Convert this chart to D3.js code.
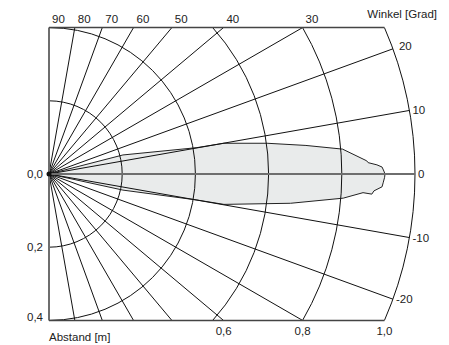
<!DOCTYPE html>
<html>
    <head>
        <script src="https://cdn.jsdelivr.net/npm/d3@7"></script>
    </head>
    <style>
        body { margin: 0; background: #fff; }
        text { font-family: "Liberation Sans", Arial, sans-serif; font-size: 11.5px; fill: #222; }
    </style>
    <body>
        <div id="canvas"></div>
        <script>
            // distance rings [m] and their labels
            var distTicks = [0.2, 0.4, 0.6, 0.8, 1.0];
            var distLabels = ['0,2', '0,4', '0,6', '0,8', '1,0'];
            // angle rays [deg]
            var angleTicks = [90, 80, 70, 60, 50, 40, 30, 20, 10, 0, -10, -20, -30, -40, -50, -60, -70, -80, -90];
            var topAngles = [90, 80, 70, 60, 50, 40, 30];
            var rightAngles = [20, 10, 0, -10, -20];
            // detection lobe: distance along axis [m], lateral offset [m]
            var lobeDist = [0, 0.202, 0.404, 0.478, 0.596, 0.702, 0.802, 0.868, 0.872, 0.896, 0.910, 0.915, 0.918,
                            0.917, 0.913, 0.910, 0.888, 0.882, 0.858, 0.804, 0.660, 0.478, 0.404, 0.202, 0];
            var lobeLat  = [0, 0.052, 0.072, 0.084, 0.084, 0.078, 0.068, 0.036, 0.031, 0.025, 0.019, 0.008, 0,
                            -0.009, -0.024, -0.035, -0.046, -0.055, -0.051, -0.066, -0.080, -0.083, -0.071, -0.044, 0];

            const w = 449;
            const h = 345;
            const ox = 49, oy = 174;

            const svg = d3.select('#canvas')
                .append('svg')
                .attr('width', w)
                .attr('height', h);

            const r = d3.scaleLinear().domain([0, 1]).range([0, 366]);
            const R = r(1.0);
            const half = r(0.4);   // frame half height
            const rad = d => d * Math.PI / 180;

            const g = svg.append('g').attr('transform', `translate(${ox},${oy})`);

            // lobe
            const lobe = d3.line().x(d => r(d[0])).y(d => -r(d[1]));
            g.append('path')
                .attr('d', lobe(d3.zip(lobeDist, lobeLat)) + 'Z')
                .attr('fill', '#e9ebeb')
                .attr('stroke', '#222')
                .attr('stroke-width', 1);

            // arcs
            distTicks.forEach(d => {
                const rr = r(d);
                const tmax = rr <= half + 0.01 ? Math.PI / 2 : Math.asin(half / rr);
                const p = d3.path();
                p.arc(0, 0, rr, -tmax, tmax, false);
                g.append('path')
                    .attr('d', p.toString())
                    .attr('fill', 'none')
                    .attr('stroke', '#111')
                    .attr('stroke-width', 1);
            });

            // rays
            angleTicks.filter(a => Math.abs(a) !== 90 && a !== 0).forEach(a => {
                const t = rad(a);
                const len = Math.min(R, half / Math.abs(Math.sin(t)));
                g.append('line')
                    .attr('x1', 0).attr('y1', 0)
                    .attr('x2', len * Math.cos(t))
                    .attr('y2', -len * Math.sin(t))
                    .attr('stroke', '#111')
                    .attr('stroke-width', 1);
            });

            // zero line + left edge (gray)
            g.append('line').attr('x1', 0).attr('y1', 0).attr('x2', R).attr('y2', 0)
                .attr('stroke', '#6e6e6e').attr('stroke-width', 2);
            g.append('line').attr('x1', 0).attr('y1', -half).attr('x2', 0).attr('y2', half)
                .attr('stroke', '#6e6e6e').attr('stroke-width', 2);

            // top / bottom frame
            const xEdge = Math.sqrt(R * R - half * half);
            [-half, half].forEach(y => {
                g.append('line').attr('x1', 0).attr('y1', y).attr('x2', xEdge).attr('y2', y)
                    .attr('stroke', '#444').attr('stroke-width', 1.5);
            });

            // origin blob
            g.append('circle').attr('r', 2.5).attr('fill', '#111');

            // top angle labels
            topAngles.forEach(a => {
                const x = Math.abs(a) === 90 ? 0 : half / Math.tan(rad(a));
                g.append('text').attr('x', x + 3).attr('y', 23 - oy).text(a);
            });

            // right angle labels
            rightAngles.forEach(a => {
                const t = rad(a);
                g.append('text')
                    .attr('x', R * Math.cos(t) + (a === 20 ? 6 : 3))
                    .attr('y', -R * Math.sin(t) + (a === 20 ? -3 : 0))
                    .attr('dy', '0.35em')
                    .text(a);
            });

            // left distance labels
            g.append('text').attr('x', -6).attr('y', 0).attr('dy', '0.35em')
                .attr('text-anchor', 'end').text('0,0');
            distTicks.forEach((d, i) => {
                if (r(d) > half + 0.01) return;
                g.append('text').attr('x', -6).attr('y', Math.min(r(d), half - 3)).attr('dy', '0.35em')
                    .attr('text-anchor', 'end').text(distLabels[i]);
            });

            // bottom distance labels
            distTicks.forEach((d, i) => {
                if (r(d) <= half + 0.01) return;
                const x = Math.sqrt(r(d) * r(d) - half * half);
                g.append('text').attr('x', x + (d === 0.6 ? 11 : 0)).attr('y', 335 - oy)
                    .attr('text-anchor', 'middle').text(distLabels[i]);
            });

            // axis titles
            svg.append('text').attr('x', 437).attr('y', 18).attr('text-anchor', 'end').text('Winkel [Grad]');
            svg.append('text').attr('x', 49).attr('y', 341).text('Abstand [m]');
        </script>
    </body>
</html>
